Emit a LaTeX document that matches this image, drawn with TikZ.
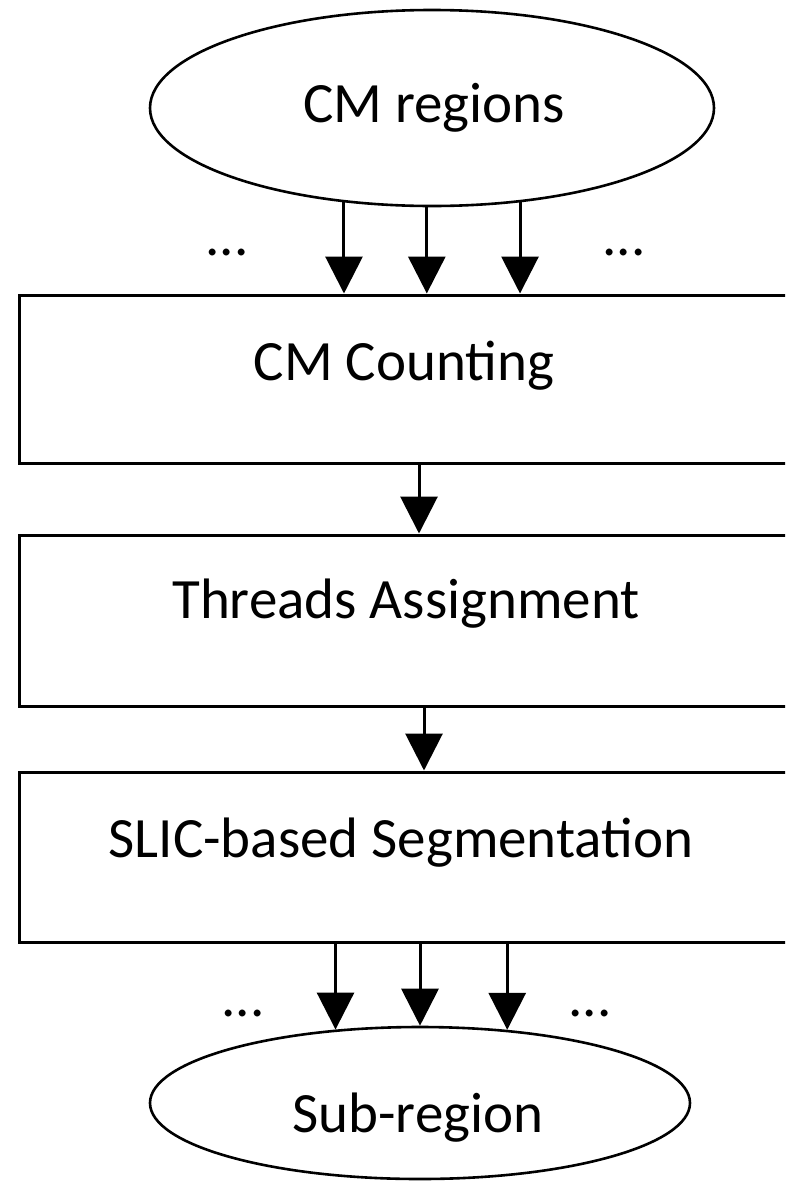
\documentclass[tikz,border=0pt]{standalone}
\usepackage{fontspec}
\setmainfont{Carlito}
\usetikzlibrary{shapes.geometric,arrows.meta}
\begin{document}
\begin{tikzpicture}[x=1pt,y=-1pt,
  lbl/.style={font=\fontsize{57}{68}\selectfont, inner sep=0pt, anchor=base},
  dots/.style={font=\fontsize{57}{68}\selectfont, inner sep=0pt, anchor=center},
  oval/.style={ellipse, draw, line width=2.6pt, inner sep=0pt},
  stepbox/.style={rectangle, draw, line width=3pt, inner sep=0pt},
  arr/.style={line width=3pt, -{Triangle[width=37pt,length=37pt]}}]
\useasboundingbox (0,0) rectangle (785,1181);
\clip (0,0) rectangle (785,1181);
\fill[white] (0,0) rectangle (785,1181);

% top ellipse
\node[oval, minimum width=564pt, minimum height=196pt] (cm) at (432,108) {};
\node[lbl] (cmt) at (434,122) {CM regions};

% boxes
\node[stepbox, minimum width=781pt, minimum height=168pt] (b1) at (409.5,379) {};
\node[lbl] (b1t) at (404,380) {CM Counting};
\node[stepbox, minimum width=781pt, minimum height=171pt] (b2) at (409.5,620.5) {};
\node[lbl] (b2t) at (406,618) {Threads Assignment};
\node[stepbox, minimum width=781pt, minimum height=170pt] (b3) at (409.5,857) {};
\node[lbl] (b3t) at (401,857) {SLIC-based Segmentation};

% bottom ellipse
\node[oval, minimum width=540pt, minimum height=152pt] (sr) at (420,1103) {};
\node[lbl] (srt) at (418,1132) {Sub-region};

% dots
\node[dots] (d1) at (227,252) {...};
\node[dots] (d2) at (624,252) {...};
\node[dots] (d3) at (243,1013) {...};
\node[dots] (d4) at (590,1013) {...};

% arrows top
\draw[arr] (cm.227.7) -- (cm.227.7 |- b1.north);
\draw[arr] (cm.267.7) -- (cm.267.7 |- b1.north);
\draw[arr] (cm.313.0) -- (cm.313.0 |- b1.north);

% middle arrows
\coordinate (m1) at (419,0);
\coordinate (m2) at (424,0);
\draw[arr] (b1.south -| m1) -- (b2.north -| m1);
\draw[arr] (b2.south -| m2) -- (b3.north -| m2);

% bottom arrows
\draw[arr] (b3.south -| sr.139.3) -- (sr.139.3);
\draw[arr] (b3.south -| sr.north) -- (sr.north);
\draw[arr] (b3.south -| sr.40.7) -- (sr.40.7);
\end{tikzpicture}
\end{document}
